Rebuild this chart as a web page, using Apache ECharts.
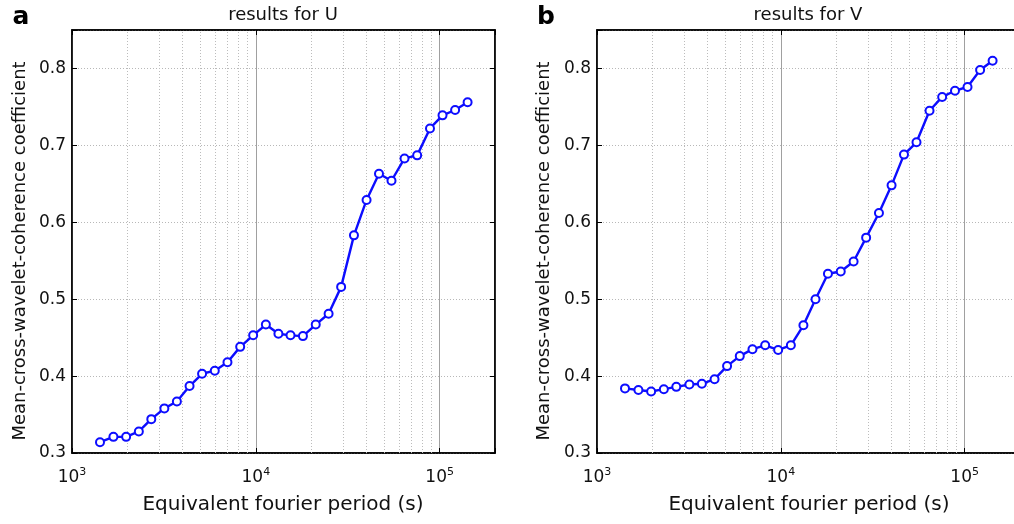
<!DOCTYPE html>
<html>
<head>
<meta charset="utf-8">
<script src="https://cdn.jsdelivr.net/npm/echarts@6/dist/echarts.min.js"></script>
<style>
html,body{margin:0;padding:0;background:#fff;}
#chart{width:1014px;height:524px;}
</style>
</head>
<body>
<div id="chart"></div>
<script>
// Equivalent fourier period (s) of each wavelet scale
const periods = [1420, 1680, 1970, 2310, 2700, 3180, 3720, 4360, 5100, 5980,
  7010, 8220, 9670, 11340, 13270, 15440, 18040, 21180, 24880, 29110,
  34180, 40030, 46770, 54700, 64390, 75450, 88590, 103650, 121350, 141900];
// Mean cross-wavelet coherence coefficient, panel a (U)
const coherenceU = [0.314, 0.321, 0.321, 0.328, 0.344, 0.358, 0.367, 0.387, 0.403, 0.407,
  0.418, 0.438, 0.453, 0.467, 0.455, 0.453, 0.452, 0.467, 0.481, 0.516,
  0.583, 0.629, 0.663, 0.654, 0.683, 0.687, 0.722, 0.739, 0.746, 0.756];
// Mean cross-wavelet coherence coefficient, panel b (V)
const coherenceV = [0.384, 0.382, 0.380, 0.383, 0.386, 0.389, 0.390, 0.396, 0.413, 0.426,
  0.435, 0.440, 0.434, 0.440, 0.466, 0.500, 0.533, 0.536, 0.549, 0.580,
  0.612, 0.648, 0.688, 0.704, 0.745, 0.763, 0.771, 0.776, 0.798, 0.810];
const panelTitles = ['results for U', 'results for V'];
const panelLetters = ['a', 'b'];
const xAxisTitle = 'Equivalent fourier period (s)';
const yAxisTitle = 'Mean-cross-wavelet-coherence coefficient';
const minorGridPeriods = [2000, 3000, 4000, 5000, 6000, 7000, 8000, 9000,
  20000, 30000, 40000, 50000, 60000, 70000, 80000, 90000];
const xRange = [1000, 200000];
const yRange = [0.3, 0.85];
const yStep = 0.1;

const FONT = 'DejaVu Sans';
const LINE = '#0d0dff';
const grids = [
  {left: 72, top: 30, width: 423, height: 423},
  {left: 597, top: 30, width: 423, height: 423}
];

function isTickY(v) { return Math.abs(v * 10 - Math.round(v * 10)) < 1e-6 && v < 0.81; }
function xLabel(v) {
  const l = Math.log10(v), e = Math.round(l);
  if (Math.abs(l - e) > 1e-6) return '';
  return '{b|10}{s|' + e + '}';
}

const xAxes = [], yAxes = [], series = [], graphic = [];
const datasets = [coherenceU, coherenceV];
grids.forEach((g, i) => {
  xAxes.push({
    gridIndex: i, type: 'log', logBase: 10, min: xRange[0], max: xRange[1], position: 'bottom',
    axisLine: {show: true, lineStyle: {color: '#000', width: 1.5}},
    axisTick: {show: true, inside: true, length: 5, lineStyle: {color: '#000'}},
    axisLabel: {formatter: xLabel, margin: 14, color: '#111', fontFamily: FONT,
      rich: {b: {fontSize: 17, fontFamily: FONT, color: '#111'},
             s: {fontSize: 11, fontFamily: FONT, color: '#111', padding: [0, 0, 10, 0]}}},
    splitLine: {show: true, lineStyle: {color: '#a0a0a0', width: 1}}
  });
  xAxes.push({
    gridIndex: i, type: 'log', logBase: 10, min: xRange[0], max: xRange[1], position: 'top',
    axisLine: {show: true, lineStyle: {color: '#000', width: 1.5}},
    axisTick: {show: true, inside: true, length: 5, lineStyle: {color: '#000'}},
    axisLabel: {show: false}, splitLine: {show: false}
  });
  yAxes.push({
    gridIndex: i, type: 'value', min: yRange[0], max: yRange[1], interval: yStep, position: 'left',
    axisLine: {show: true, lineStyle: {color: '#000', width: 1.5}},
    axisTick: {show: true, inside: true, length: 5, lineStyle: {color: '#000'}},
    axisLabel: {formatter: v => isTickY(v) ? v.toFixed(1) : '', fontSize: 17, fontFamily: FONT, color: '#111', margin: 6},
    splitLine: {show: true, lineStyle: {color: '#b8b8b8', type: [1, 2], width: 1}}
  });
  yAxes.push({
    gridIndex: i, type: 'value', min: yRange[0], max: yRange[1], interval: yStep, position: 'right',
    axisLine: {show: true, lineStyle: {color: '#000', width: 1.5}},
    axisTick: {show: true, inside: true, length: 5, lineStyle: {color: '#000'}},
    axisLabel: {show: false}, splitLine: {show: false}
  });
  series.push({
    type: 'line', xAxisIndex: 2 * i, yAxisIndex: 2 * i,
    data: periods.map((p, k) => [p, datasets[i][k]]),
    symbol: 'emptyCircle', symbolSize: 8,
    lineStyle: {color: LINE, width: 2.4},
    itemStyle: {color: LINE, borderColor: LINE, borderWidth: 2},
    z: 5,
    markLine: {
      silent: true, symbol: 'none', animation: false,
      label: {show: false},
      lineStyle: {color: '#bcbcbc', type: [1, 2], width: 1},
      emphasis: {disabled: true},
      data: minorGridPeriods.map(v => ({xAxis: v}))
    }
  });
  graphic.push({type: 'text', x: (i === 0 ? 283 : 808), y: 15,
    style: {text: panelTitles[i], font: '18px "' + FONT + '"', fill: '#111', align: 'center', verticalAlign: 'middle'}});
  graphic.push({type: 'text', x: (i === 0 ? 283 : 809), y: 505,
    style: {text: xAxisTitle, font: '20px "' + FONT + '"', fill: '#111', align: 'center', verticalAlign: 'middle'}});
  graphic.push({type: 'text', x: (i === 0 ? 20 : 544), y: 251, rotation: Math.PI / 2,
    style: {text: yAxisTitle, font: '18px "' + FONT + '"', fill: '#111', align: 'center', verticalAlign: 'middle'}});
  graphic.push({type: 'text', x: (i === 0 ? 21 : 546), y: 17,
    style: {text: panelLetters[i], font: 'bold 25px "' + FONT + '"', fill: '#000', align: 'center', verticalAlign: 'middle'}});
});

const chart = echarts.init(document.getElementById('chart'), null, {renderer: 'canvas'});
chart.setOption({
  animation: false,
  backgroundColor: '#fff',
  grid: grids.map(g => Object.assign({show: true, borderColor: '#000', borderWidth: 1.5,
    backgroundColor: 'transparent', containLabel: false, outerBoundsMode: 'none'}, g)),
  xAxis: xAxes,
  yAxis: yAxes,
  series: series,
  graphic: graphic
});
</script>
</body>
</html>
